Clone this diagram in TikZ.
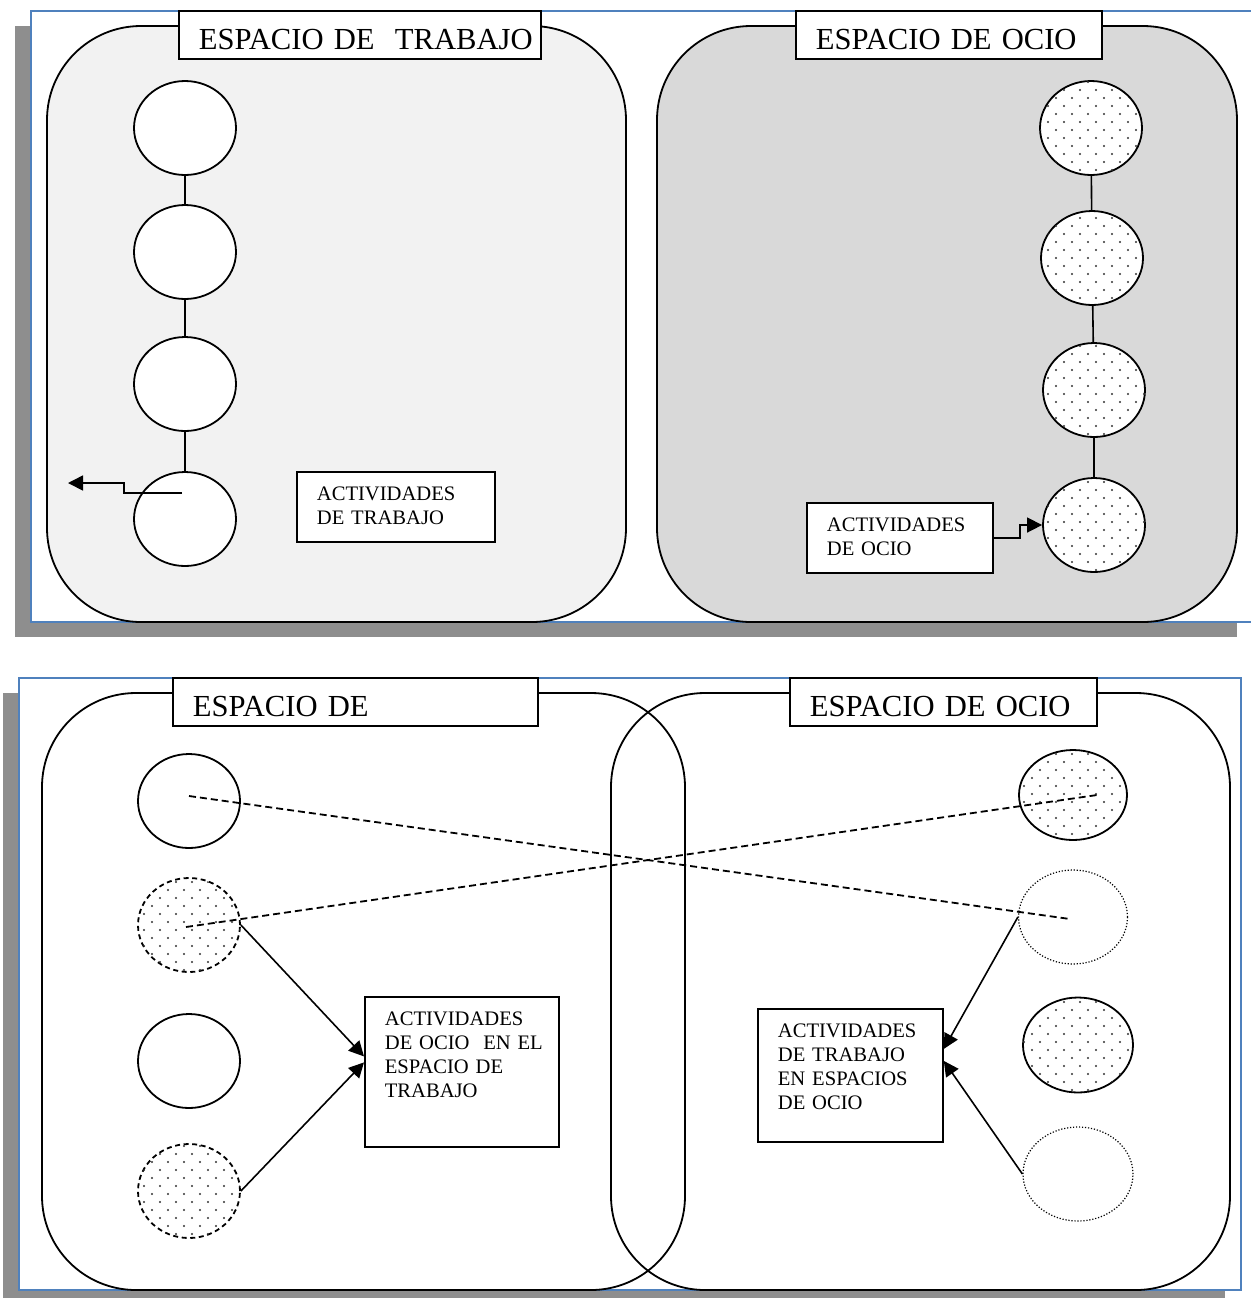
\documentclass[tikz,border=0pt]{standalone}
\usepackage{fontspec}
\setmainfont{Liberation Serif}
\usetikzlibrary{shapes.geometric,arrows.meta,patterns}
\definecolor{framebl}{RGB}{79,129,189}
\definecolor{shadowgr}{RGB}{142,142,142}
\definecolor{workgr}{RGB}{242,242,242}
\definecolor{leisgr}{RGB}{217,217,217}
\pgfdeclarepatternformonly{spots}{\pgfpoint{-0.7pt}{-0.7pt}}{\pgfpoint{4.7pt}{4.7pt}}{\pgfpoint{8pt}{8pt}}{%
  \pgfpathcircle{\pgfpoint{0pt}{0pt}}{0.6pt}%
  \pgfpathcircle{\pgfpoint{4pt}{4pt}}{0.6pt}%
  \pgfusepath{fill}}
\begin{document}
\begin{tikzpicture}[x=0.5pt, y=-0.5pt,
    oval/.style={ellipse, draw, line width=0.9pt, fill=white, inner sep=0pt, minimum width=51pt, minimum height=47pt},
    spotted/.style={oval, postaction={pattern=spots, pattern color=black!80}},
    dashoval/.style={spotted, dash pattern=on 2.5pt off 1.8pt},
    dotoval/.style={oval, line width=0.6pt, dash pattern=on 0.6pt off 0.9pt},
    titlebox/.style={draw, fill=white, line width=0.9pt, anchor=north west, align=left, inner xsep=10pt, inner ysep=4.75pt, text height=14.5pt, text depth=0pt, font=\fontsize{15.3}{18}\selectfont},
    actbox/.style={draw, fill=white, line width=0.9pt, anchor=north west, align=left, inner xsep=10pt, inner ysep=7.5pt, text height=7pt, font=\fontsize{10.3}{12}\selectfont},
    space/.style={line width=0.9pt, rounded corners=47pt},
    link/.style={line width=0.8pt},
    arrowline/.style={line width=0.8pt, -{Triangle[length=7.5pt,width=7.5pt]}},
    dashline/.style={line width=0.9pt, dash pattern=on 3.5pt off 2pt}]
    \useasboundingbox (0,0) rectangle (1250,1298);
    \fill[shadowgr] (15,26) rectangle (1237,637);
    \draw[framebl, line width=0.6pt, fill=white] (31,11) rectangle (1262,622);
    \draw[space, fill=workgr] (47,26) rectangle (626,622);
    \draw[space, fill=leisgr] (657,26) rectangle (1237,622);
    \node[titlebox, text width=161pt] (ttrab) at (178,10) {\mbox{ESPACIO DE\ \ TRABAJO}};
    \node[titlebox, text width=133pt] (tocio) at (795,10) {ESPACIO DE OCIO};
    \node[oval] (tw1) at (185,128) {};
    \node[oval] (tw2) at (185,252) {};
    \node[oval] (tw3) at (185,384) {};
    \node[oval] (tw4) at (185,519) {};
    \draw[link] (tw1) -- (tw2);
    \draw[link] (tw2) -- (tw3);
    \draw[link] (tw3) -- (tw4);
    \coordinate (twout) at (68,483);
    \draw[arrowline] ([shift={(-3,-26)}]tw4.center) -- ++(-58,0) -- ++(0,-10) -- (twout);
    \node[actbox, text width=79pt, text depth=13pt] (acttrab) at (296,471) {ACTIVIDADES\\DE TRABAJO};
    \node[spotted] (to1) at (1091,128) {};
    \node[spotted] (to2) at (1092,258) {};
    \node[spotted] (to3) at (1094,390) {};
    \node[spotted] (to4) at (1094,525) {};
    \draw[link] (to1) -- (to2);
    \draw[link] (to2) -- (to3);
    \draw[link] (to3) -- (to4);
    \node[actbox, text width=73pt, text depth=13pt] (actocio) at (806,502) {ACTIVIDADES\\DE OCIO};
    \draw[arrowline] (actocio.east) -- ++(26,0) |- (to4.west);
    \fill[shadowgr] (3,693) rectangle (1225,1310);
    \draw[framebl, line width=0.6pt, fill=white] (19,678) rectangle (1241,1290);
    \draw[space] (42,693) rectangle (685,1290);
    \draw[space] (611,693) rectangle (1230,1290);
    \node[titlebox, text width=162.5pt] (btrab) at (172,677) {ESPACIO DE};
    \node[titlebox, text width=133.5pt] (bocio) at (789,677) {ESPACIO DE OCIO};
    \node[oval] (bl1) at (189,801) {};
    \node[dashoval] (bl2) at (189,925) {};
    \node[oval] (bl3) at (189,1061) {};
    \node[dashoval] (bl4) at (189,1191) {};
    \node[spotted, minimum width=54pt, minimum height=45pt] (br1) at (1073,795) {};
    \node[dotoval, minimum width=54.5pt] (br2) at (1073,917) {};
    \node[spotted, minimum width=55pt, minimum height=47.5pt] (br3) at (1078,1045) {};
    \node[dotoval, minimum width=55pt] (br4) at (1078,1174) {};
    \node[actbox, text width=77pt, text depth=53pt] (actbl) at (364,996) {ACTIVIDADES\\\mbox{DE OCIO\ \ EN EL}\\ESPACIO DE\\TRABAJO};
    \node[actbox, text width=72.5pt, text depth=44.5pt] (actbr) at (757,1008) {ACTIVIDADES\\DE TRABAJO\\EN ESPACIOS\\DE OCIO};
    \draw[arrowline] (bl2.east) -- ([yshift=7.75pt]actbl.west);
    \draw[arrowline] (bl4.east) -- ([yshift=4.75pt]actbl.west);
    \draw[arrowline] (br2.west) -- ([yshift=13.25pt]actbr.east);
    \draw[arrowline] (br4.west) -- ([yshift=7.25pt]actbr.east);
    \draw[dashline] ([yshift=2.5pt]bl1.center) -- ([shift={(-1.5pt,-1pt)}]br2.center);
    \draw[dashline] ([xshift=-1.5pt,yshift=-1pt]bl2.center) -- ([xshift=12pt]br1.center);
\end{tikzpicture}
\end{document}
